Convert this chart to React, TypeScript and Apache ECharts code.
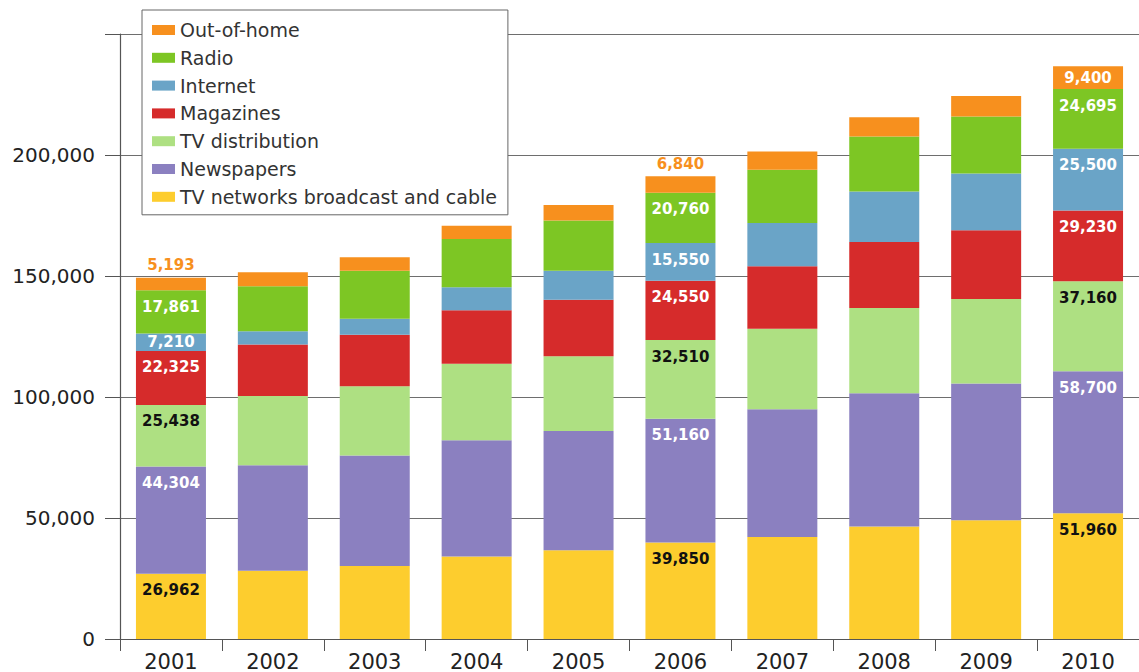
import React, { useEffect, useRef } from "react";
import * as echarts from "echarts";

const years = ["2001", "2002", "2003", "2004", "2005", "2006", "2007", "2008", "2009", "2010"];
const tvNetworks = [26962, 28200, 30200, 34100, 36700, 39850, 42200, 46500, 49100, 51960];
const newspapers = [44304, 43600, 45600, 48000, 49200, 51160, 52700, 55000, 56500, 58700];
const tvDistribution = [25438, 28600, 28600, 31600, 30900, 32510, 33300, 35300, 34900, 37160];
const magazines = [22325, 21300, 21300, 22100, 23400, 24550, 25800, 27200, 28400, 29230];
const internet = [7210, 5500, 6600, 9500, 12000, 15550, 17900, 20900, 23500, 25500];
const radio = [17861, 18600, 19900, 20000, 20700, 20760, 22000, 22700, 23500, 24695];
const outOfHome = [5193, 5800, 5500, 5500, 6400, 6840, 7500, 8000, 8500, 9400];
const yTicks = [0, 50000, 100000, 150000, 200000, 250000];
const labelledYears = [0, 5, 9];

const legendOrder = [
  "Out-of-home",
  "Radio",
  "Internet",
  "Magazines",
  "TV distribution",
  "Newspapers",
  "TV networks broadcast and cable",
];

const fmt = (v: number) => v.toLocaleString("en-US");

function buildSeries(
  name: string,
  values: number[],
  color: string,
  labelColor: string,
  overrides: Record<number, any> = {}
) {
  return {
    name,
    type: "bar",
    stack: "total",
    barWidth: 70,
    itemStyle: { color },
    emphasis: { disabled: true },
    data: values.map((v, i) =>
      labelledYears.includes(i)
        ? {
            value: v,
            label: {
              show: true,
              position: "insideTop",
              distance: 9,
              color: labelColor,
              fontFamily: "DejaVu Sans",
              fontWeight: "bold",
              fontSize: 15,
              formatter: (p: any) => fmt(p.value),
              ...(overrides[i] || {}),
            },
          }
        : v
    ),
  };
}

export default function App() {
  const ref = useRef<HTMLDivElement>(null);
  useEffect(() => {
    if (!ref.current) return;
    const chart = echarts.init(ref.current, undefined, { renderer: "svg" });
    chart.setOption({
      animation: false,
      backgroundColor: "#ffffff",
      grid: { left: 120, top: 34, width: 1028, height: 606 },
      legend: {
        orient: "vertical",
        left: 142,
        top: 10,
        data: legendOrder,
        icon: "rect",
        itemWidth: 23,
        itemHeight: 10,
        itemGap: 8.8,
        padding: [10.5, 11, 8.5, 10],
        backgroundColor: "#ffffff",
        borderColor: "#666666",
        borderWidth: 1,
        selectedMode: false,
        textStyle: { fontFamily: "DejaVu Sans", fontSize: 19, lineHeight: 19, color: "#333333" },
      },
      xAxis: {
        type: "category",
        data: years,
        boundaryGap: true,
        axisLine: { show: true, lineStyle: { color: "#555555", width: 1.2 } },
        axisTick: { show: true, length: 12, alignWithLabel: false, lineStyle: { color: "#555555" } },
        axisLabel: { fontFamily: "DejaVu Sans", fontSize: 21, color: "#222222", margin: 12 },
      },
      yAxis: {
        type: "value",
        min: yTicks[0],
        max: yTicks[yTicks.length - 1],
        interval: yTicks[1] - yTicks[0],
        axisLine: { show: true, lineStyle: { color: "#555555", width: 1.2 } },
        axisTick: { show: true, length: 15, lineStyle: { color: "#555555" } },
        splitLine: { show: true, lineStyle: { color: "#6e6e6e", width: 1 } },
        axisLabel: {
          fontFamily: "DejaVu Sans",
          fontSize: 20,
          color: "#222222",
          margin: 25,
          formatter: (v: number) => (v === 250000 ? "" : fmt(v)),
        },
      },
      series: [
        buildSeries("TV networks broadcast and cable", tvNetworks, "#fdcd2e", "#111111"),
        buildSeries("Newspapers", newspapers, "#8b80c0", "#ffffff"),
        buildSeries("TV distribution", tvDistribution, "#aee082", "#111111"),
        buildSeries("Magazines", magazines, "#d62b2b", "#ffffff"),
        buildSeries("Internet", internet, "#6aa4c7", "#ffffff", {
          0: { position: "inside" },
        }),
        buildSeries("Radio", radio, "#7dc624", "#ffffff"),
        buildSeries("Out-of-home", outOfHome, "#f7901e", "#f7901e", {
          0: { position: "top", distance: 5 },
          5: { position: "top", distance: 5 },
          9: { position: "inside", color: "#ffffff" },
        }),
      ],
    });
    return () => chart.dispose();
  }, []);
  return (
    <div
      ref={ref}
      style={{ position: "absolute", left: 0, top: 0, width: 1139, height: 672 }}
    />
  );
}
